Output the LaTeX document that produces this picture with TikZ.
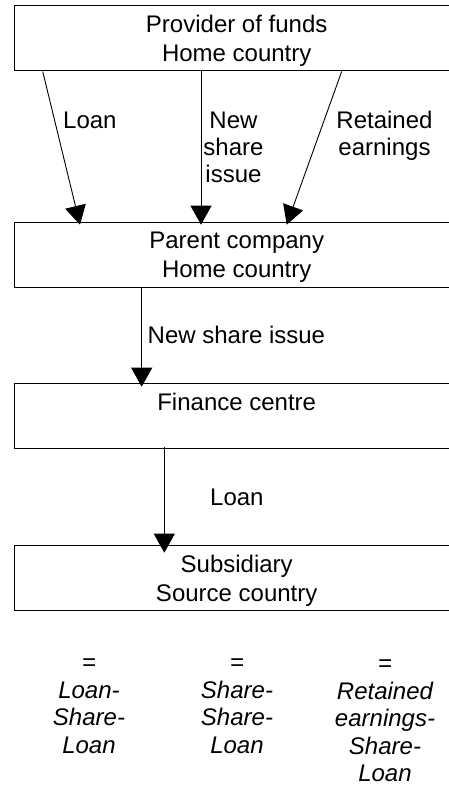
\documentclass[tikz,border=0pt]{standalone}
\usepackage{fontspec}
\setmainfont{Liberation Sans}
\usetikzlibrary{positioning,arrows.meta}

\begin{document}
\begin{tikzpicture}[x=1pt,y=1pt,
  every node/.style={font=\fontsize{24}{28.5}\selectfont},
  box/.style={draw=black,line width=1.4pt,minimum width=444pt,minimum height=65pt,inner sep=0pt,text depth=0pt,align=center,anchor=north west},
  flow/.style={draw=black,line width=0.9pt,-{Triangle[width=21pt,length=19pt]}},
  lbl/.style={inner sep=0pt,align=center,font=\fontsize{24}{27}\selectfont},
  result/.style={inner sep=0pt,align=center,anchor=base,font=\fontsize{24}{27.5}\selectfont\itshape}]
\useasboundingbox (0,0) rectangle (448,-787);
\node[box] (prov) at (14,-5) {Provider of funds\\Home country};
\node[box] (par) at (14,-221.7) {Parent company\\Home country};
\node[box] (fin) at (14,-382.7) {Finance centre\\\strut};
\node[box] (sub) at (14,-545) {Subsidiary\\Source country};
\draw[flow] ([xshift=28.7pt]prov.south west) -- ([xshift=66pt,yshift=-3pt]par.north west);
\draw[flow] ([xshift=187pt]prov.south west) -- ([xshift=187pt,yshift=-3pt]par.north west);
\draw[flow] ([xshift=327.7pt]prov.south west) -- ([xshift=272.7pt,yshift=-3pt]par.north west);
\draw[flow] ([xshift=127.7pt]par.south west) -- ([xshift=127.7pt,yshift=-4pt]fin.north west);
\draw[flow] ([xshift=150.3pt,yshift=2pt]fin.south west) -- ([xshift=150.3pt,yshift=-7.7pt]sub.north west);
\node[lbl,anchor=base west] (l1) at (63,-128) {Loan};
\node[lbl,anchor=base] (l2) at (233.5,-182) {New\\share\\issue};
\node[lbl,anchor=base] (l3) at (384.5,-155) {Retained\\earnings};
\node[lbl,anchor=base west] (l4) at (147.5,-343) {New share issue};
\node[lbl,anchor=base west] (l5) at (210,-505) {Loan};
\node[result] (r1) at (89,-753) {=\\Loan-\\Share-\\Loan};
\node[result] (r2) at (237,-753) {=\\Share-\\Share-\\Loan};
\node[result] (r3) at (385,-781.5) {=\\Retained\\earnings-\\Share-\\Loan};
\end{tikzpicture}
\end{document}
